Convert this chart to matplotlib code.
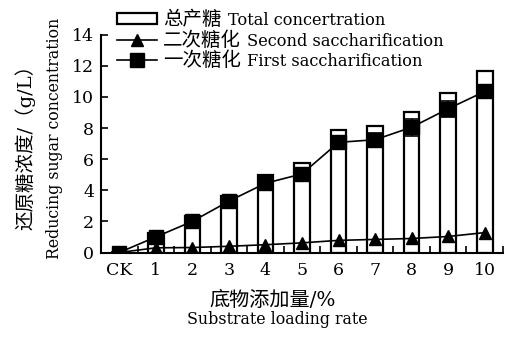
import matplotlib
matplotlib.use("Agg")
import matplotlib.pyplot as plt
from matplotlib.patches import Patch
from matplotlib.lines import Line2D
import numpy as np

FONTS = ['DejaVu Serif', 'Noto Sans CJK SC']
plt.rcParams['font.family'] = FONTS

categories = ['CK', '1', '2', '3', '4', '5', '6', '7', '8', '9', '10']
total_sugar = [0.0, 1.27, 2.35, 3.65, 5.0, 5.73, 7.87, 8.12, 9.0, 10.27, 11.67]
first_sacch = [0.0, 1.0, 2.0, 3.3, 4.45, 5.05, 7.08, 7.25, 8.05, 9.24, 10.35]
first_err = [0.05, 0.1, 0.15, 0.2, 0.25, 0.3, 0.4, 0.4, 0.55, 0.5, 0.4]
second_sacch = [0.0, 0.3, 0.32, 0.4, 0.5, 0.62, 0.78, 0.84, 0.9, 1.03, 1.28]

legend_cn = ['总产糖', '二次糖化', '一次糖化']
legend_en = ['Total concertration', 'Second saccharification',
             'First saccharification']

fig = plt.figure(figsize=(5.1, 3.4), dpi=100)
W, H = 510, 340
ax = fig.add_axes([101 / W, 1 - 252.5 / H, 402 / W, 217.8 / H])

x = np.arange(len(categories))
ax.bar(x, total_sugar, width=0.43, color='white', edgecolor='black',
       linewidth=1.6, zorder=1)
ax.errorbar(x, first_sacch, yerr=first_err, color='black', lw=1.2,
            marker='s', ms=9.5, capsize=5.5, capthick=1.2, elinewidth=1.2, zorder=3)
ax.plot(x, second_sacch, color='black', lw=1.2, marker='^', ms=9, zorder=3)

ax.set_xlim(-0.5, 10.5)
ax.set_ylim(0, 14)
ax.set_yticks(np.arange(0, 15, 2))
ax.set_xticks(x)
ax.set_xticklabels(categories)
ax.set_xticks(np.arange(-0.5, 10.6, 1), minor=True)
ax.tick_params(axis='x', which='major', length=0, labelsize=12.5, pad=7)
ax.tick_params(axis='x', which='minor', direction='in', length=5, width=1.2)
ax.tick_params(axis='y', direction='in', length=5, width=1.2, labelsize=12.5, pad=5)
for s in ['top', 'right']:
    ax.spines[s].set_visible(False)
for s in ['left', 'bottom']:
    ax.spines[s].set_linewidth(1.5)

handles = [Patch(facecolor='white', edgecolor='black', linewidth=1.6),
           Line2D([], [], color='black', lw=1.2, marker='^', ms=9),
           Line2D([], [], color='black', lw=1.2, marker='s', ms=9.5)]
leg = fig.legend(handles, legend_cn, loc='upper left',
                 bbox_to_anchor=(117 / W, 1 - 11 / H), frameon=False,
                 prop={'family': FONTS, 'size': 14, 'weight': 'light'},
                 handlelength=2.08, handleheight=0.5,
                 handletextpad=0.3, labelspacing=0.1, borderpad=0,
                 borderaxespad=0)

# English part of each legend entry follows the Chinese name on the same baseline
fig.canvas.draw()
renderer = fig.canvas.get_renderer()
for t, en in zip(leg.get_texts(), legend_en):
    bb = t.get_window_extent(renderer)
    base_y = t.get_transform().transform(t.get_position())[1]
    fig.text((bb.x1 + 6) / W, base_y / H, en, ha='left', va='baseline',
             fontsize=11.7)

fig.text(25 / W, 1 - 142 / H, '还原糖浓度/（g/L）', rotation=90,
         ha='center', va='center', fontsize=14, fontweight='light')
fig.text(55 / W, 1 - 138 / H, 'Reducing sugar concentration', rotation=90,
         ha='center', va='center', fontsize=11.3)
fig.text(273 / W, 1 - 300 / H, '底物添加量/%', ha='center', va='center',
         fontsize=14.5, fontweight='light')
fig.text(277 / W, 1 - 320 / H, 'Substrate loading rate', ha='center',
         va='center', fontsize=11.4)

fig.savefig('out.png', dpi=100)
